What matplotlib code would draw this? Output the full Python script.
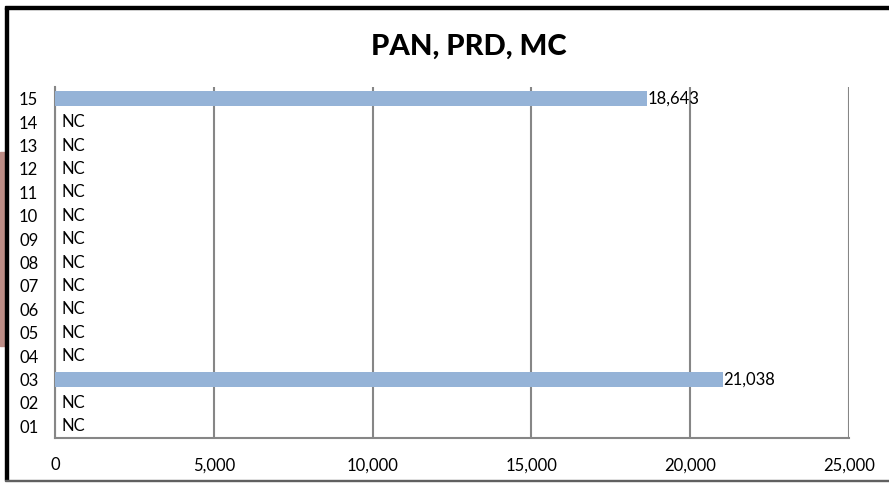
import matplotlib
matplotlib.use('Agg')
from matplotlib import pyplot as plt
from matplotlib.patches import Rectangle

plt.rcParams['font.family'] = ['Lato', 'DejaVu Sans']

categories = ['01', '02', '03', '04', '05', '06', '07', '08', '09', '10',
              '11', '12', '13', '14', '15']
values = [None, None, 21038, None, None, None, None, None, None, None,
          None, None, None, None, 18643]
xticks = [0, 5000, 10000, 15000, 20000, 25000]

W, H = 889, 483
fig = plt.figure(figsize=(W / 100, H / 100), dpi=100)

# frame from the slide around the chart
fig.patches.append(Rectangle((0, 1 - 346 / H), 5 / W, 194 / H, transform=fig.transFigure,
                             color='#bc8c85', zorder=0))
fig.patches.append(Rectangle((5 / W, 3 / H), 3 / W, 1 - 11 / H, transform=fig.transFigure,
                             color='black', zorder=5))
fig.patches.append(Rectangle((5 / W, 1 - 9 / H), 1, 3 / H, transform=fig.transFigure,
                             color='black', zorder=5))
fig.patches.append(Rectangle((5 / W, 2 / H), 1, 1.5 / H, transform=fig.transFigure,
                             color='#606060', zorder=5))

ax = fig.add_axes([55 / W, 1 - 438 / H, 794 / W, 351 / H])
ypos = list(range(len(categories)))
fs = 12
for y, v in zip(ypos, values):
    if v is None:
        ax.text(200, y, 'NC', va='center', ha='left', fontsize=fs, color='black')
    else:
        ax.barh(y, v, height=0.64, color='#95b3d7', zorder=3)
        ax.text(v, y, f'{v:,}', va='center', ha='left', fontsize=fs, color='black', zorder=4)

ax.set_xlim(0, 25000)
ax.set_ylim(-0.5, 14.5)
ax.set_yticks(ypos)
ax.set_yticklabels(categories, fontsize=fs)
ax.set_xticks(xticks)
ax.set_xticklabels([f'{t:,}' for t in xticks], fontsize=fs)
ax.tick_params(length=0)
ax.tick_params(axis='y', pad=12)
ax.tick_params(axis='x', pad=14)
ax.grid(axis='x', color='#868686', linewidth=1.5, zorder=1)
ax.set_axisbelow(True)
for s in ['top', 'right']:
    ax.spines[s].set_visible(False)
for s in ['left', 'bottom']:
    ax.spines[s].set_color('#868686')
    ax.spines[s].set_linewidth(1.5)

fig.text(469 / W, 1 - 47 / H, 'PAN, PRD, MC', ha='center', va='center',
         fontsize=21, fontweight='black')

fig.savefig('out.png', dpi=100)
